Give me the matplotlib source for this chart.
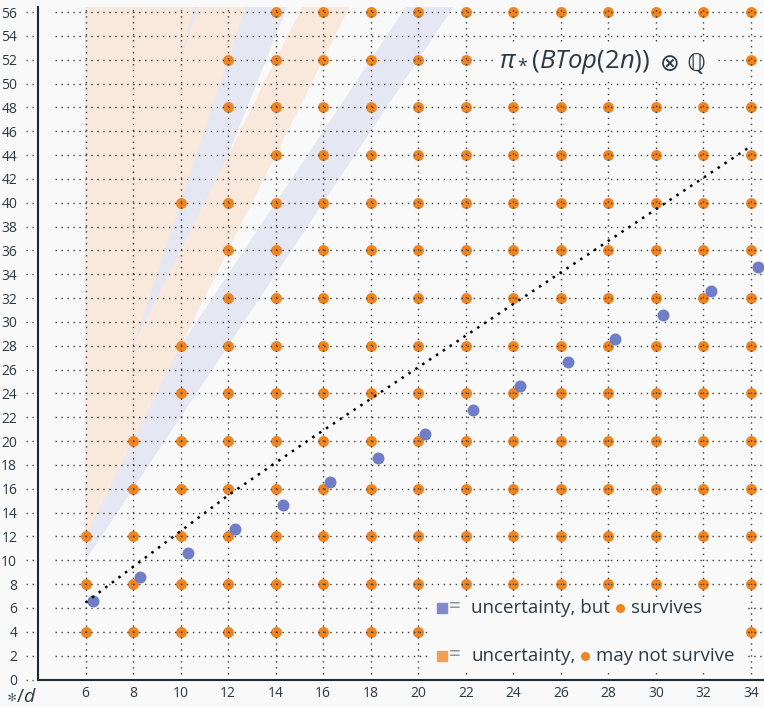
import matplotlib
matplotlib.use("Agg")
import matplotlib.pyplot as plt

plt.rcParams['font.family'] = ['Open Sans', 'DejaVu Sans']
plt.rcParams['mathtext.fontset'] = 'custom'
plt.rcParams['mathtext.rm'] = 'Open Sans'
plt.rcParams['mathtext.it'] = 'Open Sans:italic'
plt.rcParams['mathtext.fallback'] = 'stixsans'

# dimension d = 2n on the x axis, degree * on the y axis
dims = [6, 8, 10, 12, 14, 16, 18, 20, 22, 24, 26, 28, 30, 32, 34]
# highest degree of the regular column of classes (every 4 degrees from 4)
col_top = [12, 20, 28, 40, 56, 56, 56, 56, 56, 56, 56, 56, 56, 56, 56]
# isolated classes above the column
extra_x = [10, 12, 12]
extra_y = [40, 48, 52]

# euler classes (drawn a bit off the grid)
euler_x = [6.3, 8.3, 10.3, 12.3, 14.3, 16.3, 18.3, 20.3, 22.3, 24.3, 26.3, 28.3, 30.3, 32.3, 34.3]
euler_y = [6.6, 8.6, 10.6, 12.6, 14.6, 16.6, 18.6, 20.6, 22.6, 24.6, 26.6, 28.6, 30.6, 32.6, 34.6]

# dotted bound
bound_x = [6, 8, 10, 12, 15.4, 34]
bound_y = [6.45, 9.45, 12.45, 15.45, 20.1, 44.75]

# uncertainty bands: slope, lower / upper edge at d = 6
band_slope = [3, 4, 5, 6, 7, 8, 9, 10, 11, 12, 13, 14, 15, 16, 17, 18, 19, 20, 21, 22, 23, 24, 25, 26]
band_lo = [10, 12, 14, 16, 18, 20, 22, 24, 26, 28, 30, 32, 34, 36, 38, 40, 42, 44, 46, 48, 50, 52, 54, 56]
band_hi = [16, 20, 24, 28, 32, 36, 40, 44, 48, 52, 56, 60, 64, 68, 72, 76, 80, 84, 88, 92, 96, 100, 104, 108]

bg = '#f9f9f9'
txt = '#2b3a45'
orange = '#ee8422'
blue_dot = '#6f7ec7'
blue_band = '#e5e7f3'
orange_band = '#f9e9dc'

W, H = 764, 707
fig = plt.figure(figsize=(W / 100, H / 100), dpi=100, facecolor=bg)
ax = fig.add_axes([38 / W, 27.5 / H, 726 / W, 672.8 / H], facecolor=bg)
ax.set_xlim(4.0, 34.55)
ax.set_ylim(0, 56.45)


def px(x, y):
    return x / W, 1 - y / H


# bands, blue first, orange on top
for order in [1, 0]:
    for k, lo, hi in zip(band_slope, band_lo, band_hi):
        if k % 2 != order:
            continue
        col = blue_band if k % 2 else orange_band
        ax.fill_between([6, 40], [lo, lo + k * 34], [hi, hi + k * 34],
                        color=col, lw=0, zorder=1)

# orange classes
ox, oy = [], []
for d, top in zip(dims, col_top):
    for y in range(4, top + 1, 4):
        ox.append(d)
        oy.append(y)
ox += extra_x
oy += extra_y
ax.scatter(ox, oy, s=62, color=orange, lw=0, zorder=3, clip_on=False)

# dotted grid over the dots
dot = (0, (1, 3.3))
ax.vlines(dims, 0, 56.45, colors='#3c3c3c', linestyles=[dot], lw=1.0, zorder=4)
ax.hlines(list(range(2, 57, 2)), 4.7, 34.55, colors='#3c3c3c', linestyles=[dot], lw=1.0, zorder=4)
ax.hlines(list(range(0, 57, 2)), 3.5, 3.85, colors='#555555', linestyles=[dot], lw=1.0,
          zorder=4, clip_on=False)

ax.scatter(euler_x, euler_y, s=74, color=blue_dot, lw=0, zorder=5, clip_on=False)

ax.plot(bound_x, bound_y, color='black', lw=1.8, linestyle=(0, (1, 2.3)), zorder=6)

for s in ['top', 'right']:
    ax.spines[s].set_visible(False)
for s in ['left', 'bottom']:
    ax.spines[s].set_color('#1e2b36')
    ax.spines[s].set_linewidth(1.5)
    ax.spines[s].set_zorder(7)

ax.set_xticks(dims)
ax.set_xticklabels([str(d) for d in dims])
ax.set_yticks(list(range(0, 57, 2)))
ax.set_yticklabels([str(v) for v in range(0, 57, 2)])
ax.tick_params(axis='y', length=0, pad=15, labelsize=10, labelcolor=txt)
ax.tick_params(axis='x', length=0, pad=5, labelsize=10, labelcolor=txt)

fig.text(*px(21, 702), r'$\ast/d$', fontsize=14, color=txt, ha='center', va='baseline')

# title, with the grid hidden behind it
fig.add_artist(plt.Rectangle(px(494, 80), 220 / W, 36 / H, transform=fig.transFigure,
                             facecolor=bg, edgecolor='none', zorder=7))
fig.text(*px(499, 62), r'$\pi_*(BTop(2n))$', fontsize=18.5, color=txt,
         ha='left', va='center', zorder=8)
fig.text(*px(660, 63), '⊗ ℚ', fontsize=17, color=txt, family='DejaVu Sans',
         ha='left', va='center', zorder=8)

# legend
box = plt.Rectangle(px(428, 671), 318 / W, 73 / H, transform=fig.transFigure,
                    facecolor=bg, edgecolor='none', zorder=7)
fig.add_artist(box)
for yy, sq, words in [(608, '#808acc', ['uncertainty, but', 'survives']),
                      (656, '#f0a050', ['uncertainty,', 'may not survive'])]:
    fig.add_artist(plt.Line2D([px(442, yy)[0]], [px(442, yy)[1]], transform=fig.transFigure,
                              marker='s', ms=7.5, color=sq, lw=0, zorder=8))
    fig.text(*px(449, yy), '=', fontsize=15, color='#8a949b', ha='left', va='center', zorder=8)
    t1 = fig.text(*px(471, yy), words[0], fontsize=13.5, color=txt, ha='left', va='center', zorder=8)
    fig.canvas.draw()
    bb = t1.get_window_extent()
    xdot = bb.x1 + 10
    fig.add_artist(plt.Line2D([xdot / W], [px(0, yy)[1]], transform=fig.transFigure,
                              marker='o', ms=5.5, color=orange, lw=0, zorder=8))
    fig.text((xdot + 11) / W, px(0, yy)[1], words[1], fontsize=13.5, color=txt,
             ha='left', va='center', zorder=8)

fig.savefig('out.png', dpi=100, facecolor=bg)
